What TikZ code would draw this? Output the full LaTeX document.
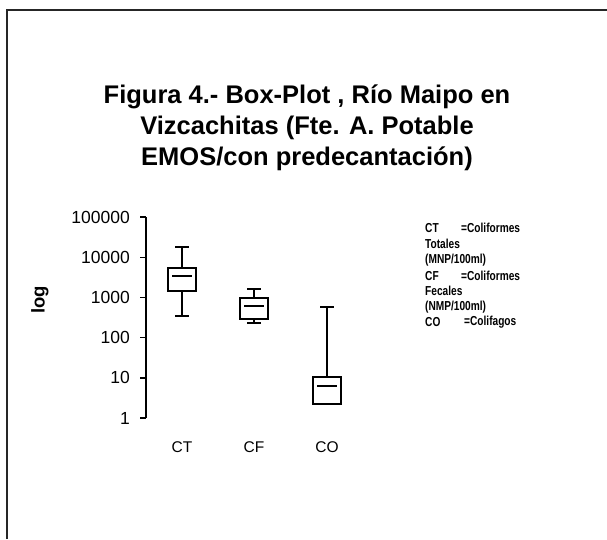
\documentclass[tikz,border=0pt]{standalone}
\usepackage{fontspec}
\setmainfont{Liberation Sans}
\newfontfamily\legendfont[FakeStretch=0.78]{Liberation Sans}
\usetikzlibrary{positioning,calc}
\tikzset{
    frameline/.style={line width=1.6pt, black!85},
    axisline/.style={line width=1.4pt},
    boxline/.style={line width=1.2pt},
    ticklabel/.style={anchor=east, inner sep=0pt, font=\fontsize{17.5}{20}\selectfont},
    catlabel/.style={inner sep=0pt, font=\fontsize{15.5}{18}\selectfont},
    legendtext/.style={anchor=west, inner sep=0pt, font=\legendfont\bfseries\fontsize{13}{15}\selectfont}
}

\begin{document}
\begin{tikzpicture}[x=1pt, y=-1pt]
\useasboundingbox (0,0) rectangle (607,539);

% frame
\draw[frameline] (7,539) -- (7,10) -- (607,10);

% title
\node[align=center, font=\bfseries\fontsize{25.5}{31}\selectfont] (title) at (307,128)
    {Figura 4.- Box-Plot , Río Maipo en\\Vizcachitas (Fte. A. Potable\\EMOS/con predecantación)};

% axis
\coordinate (ytop) at (146,217);
\coordinate (ybot) at (146,418);
\draw[axisline] (ytop) -- (ybot);
\foreach \v/\lab [count=\i from 0] in {1/1,10/10,100/100,1000/1000,10000/10000,100000/100000}{
    \coordinate (tk\i) at (146,{418-40.2*\i});
    \draw[axisline] (tk\i) -- ++(-6,0);
    \node[ticklabel] (lab\i) at ($(tk\i)+(-16,0)$) {\lab};
}
\node[rotate=90, font=\bfseries\fontsize{18.5}{20}\selectfont] (ylab) at (40,300) {log};

% boxes: name / x / whisker top / box top / median / box bottom / whisker bottom
\foreach \nm/\cx/\wt/\bt/\md/\bb/\wb in {CT/182/247/268/276/291/316, CF/254/289/298/306/319/323, CO/327/307/377/386/404/404}{
    \draw[boxline] (\cx-14,\bt) rectangle (\cx+14,\bb);
    \draw[boxline] (\cx-10,\md) -- (\cx+10,\md);
    \draw[boxline] (\cx,\wt) -- (\cx,\bt);
    \draw[boxline] (\cx-7,\wt) -- (\cx+7,\wt);
    \draw[boxline] (\cx,\bb) -- (\cx,\wb);
    \draw[boxline] (\cx-7,\wb) -- (\cx+7,\wb);
    \node[catlabel] (cat\nm) at (\cx,447) {\nm};
}

% legend
\node[legendtext] (lgCT) at (425,228) {CT};
\node[legendtext] (lgCTd) at (461,228) {=Coliformes};
\node[legendtext] (lgCT2) at (425,244) {Totales};
\node[legendtext] (lgCT3) at (425,260) {(MNP/100ml)};
\node[legendtext] (lgCF) at (425,276) {CF};
\node[legendtext] (lgCFd) at (461,276) {=Coliformes};
\node[legendtext] (lgCF2) at (425,291) {Fecales};
\node[legendtext] (lgCF3) at (425,307) {(NMP/100ml)};
\node[legendtext] (lgCO) at (425,322) {CO};
\node[legendtext] (lgCOd) at (464,322) {=Colifagos};
\end{tikzpicture}
\end{document}
